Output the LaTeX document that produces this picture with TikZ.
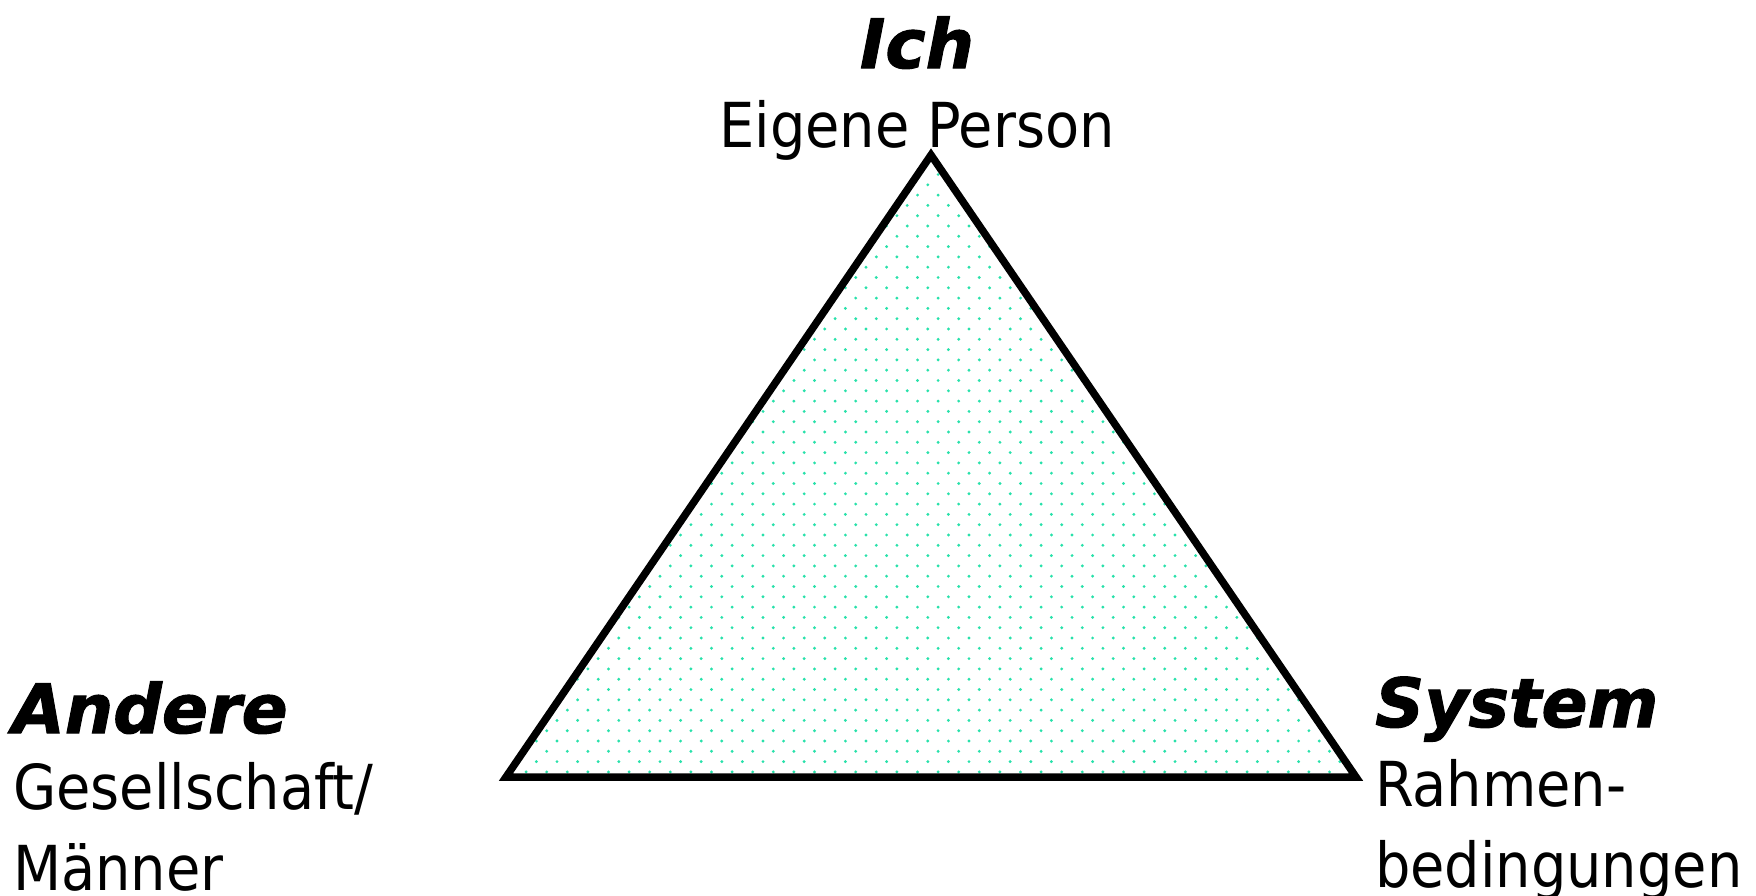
\documentclass[tikz,border=0pt]{standalone}
\usepackage{fontspec}
\setmainfont{DejaVu Sans Condensed}
\newfontfamily\headfont{DejaVu Sans Bold Oblique}[FakeBold=1.5]
\definecolor{dotcol}{RGB}{40,225,170}
\tikzset{
  edge/.style={line width=7.5pt, line join=miter, draw=black},
  headtxt/.style={inner sep=0pt, font=\headfont\fontsize{68}{70}\selectfont},
  bodytxt/.style={inner sep=0pt, font=\fontsize{62}{81}\selectfont},
}
\newcommand{\lines}[2]{\begin{tabular}[t]{@{}l@{}}#1\\#2\end{tabular}}
\begin{document}
\begin{tikzpicture}[x=1pt,y=-1pt]
\useasboundingbox (0,0) rectangle (1756,895);
\coordinate (T) at (931,155);
\coordinate (L) at (506,777);
\coordinate (R) at (1356,777);
% dotted fill
\begin{scope}
  \clip (T) -- (L) -- (R) -- cycle;
  \foreach \j in {0,...,63}{
    \pgfmathsetmacro{\yy}{155+\j*10.3}
    \pgfmathsetmacro{\xoff}{mod(\j,2)==0 ? 0 : 10.3}
    \foreach \i in {0,...,42}{
      \fill[dotcol] (506+\xoff+\i*20.6-0.5,\yy-1.1) circle (1.6pt);
    }
  }
\end{scope}
\draw[edge] (T) -- (L) -- (R) -- cycle;
% labels
\node[headtxt, anchor=base] (ich) at (917,68) {Ich};
\node[bodytxt, anchor=base] (eigene) at (917,147) {Eigene Person};
\node[headtxt, anchor=base west] (andere) at (12,733) {Andere};
\node[bodytxt, anchor=base west] (ges) at (13,809) {\lines{Gesellschaft/}{Männer}};
\node[headtxt, anchor=base west] (system) at (1375,727) {System};
\node[bodytxt, anchor=base west] (rahmen) at (1375,806) {\lines{Rahmen-}{bedingungen}};
\end{tikzpicture}
\end{document}
